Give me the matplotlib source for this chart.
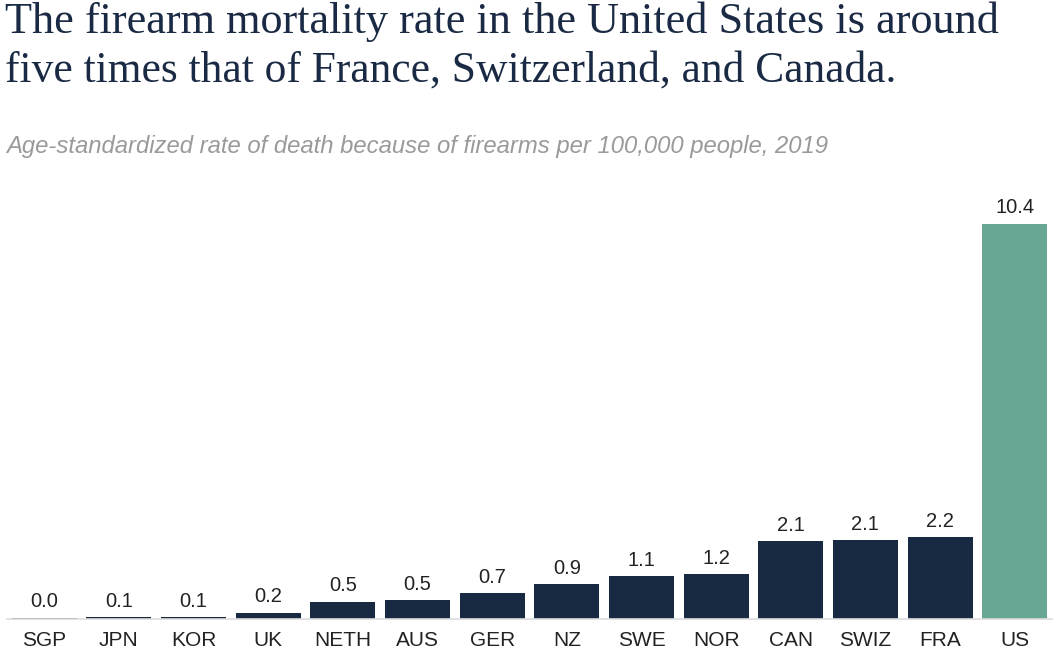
import matplotlib
matplotlib.use("Agg")
import matplotlib.pyplot as plt

countries = ["SGP", "JPN", "KOR", "UK", "NETH", "AUS", "GER", "NZ", "SWE", "NOR", "CAN", "SWIZ", "FRA", "US"]
rates = [0.03, 0.05, 0.05, 0.16, 0.45, 0.5, 0.68, 0.92, 1.12, 1.18, 2.04, 2.08, 2.15, 10.4]
rate_labels = ["0.0", "0.1", "0.1", "0.2", "0.5", "0.5", "0.7", "0.9", "1.1", "1.2", "2.1", "2.1", "2.2", "10.4"]

title_lines = ["The firearm mortality rate in the United States is around",
               "five times that of France, Switzerland, and Canada."]
subtitle = "Age-standardized rate of death because of firearms per 100,000 people, 2019"

navy = "#182a42"
green = "#67a793"
colors = [green if c == "US" else navy for c in countries]

W, H = 1055, 658
fig = plt.figure(figsize=(W / 100, H / 100), dpi=100)
ax = fig.add_axes([7 / W, 1 - 619 / H, (1052 - 7) / W, (619 - 190) / H])

x = range(len(countries))
bars = ax.bar(x, rates, width=0.87, color=colors)
ax.set_xlim(-0.5, len(countries) - 0.5)
ax.set_ylim(0, (619 - 190) / 38.0)

for b, lab in zip(bars, rate_labels):
    ax.text(b.get_x() + b.get_width() / 2, b.get_height() + 0.17, lab,
            ha="center", va="bottom", fontsize=14.5, family="Liberation Sans", color="#222222")

ax.set_xticks(list(x))
ax.set_xticklabels(countries, fontsize=15, family="Liberation Sans", color="#222222")
ax.tick_params(axis="x", length=0, pad=9)
ax.set_yticks([])
for s in ["top", "right", "left"]:
    ax.spines[s].set_visible(False)
ax.spines["bottom"].set_color("#dddddd")
ax.spines["bottom"].set_linewidth(1.2)

# title and subtitle, sized to match the widths in the reference
fig.canvas.draw()
r = fig.canvas.get_renderer()

def fit_text(xpx, ypx, s, target_w, **kw):
    t = fig.text(xpx / W, 1 - ypx / H, s, fontsize=20, **kw)
    w = t.get_window_extent(r).width
    t.set_fontsize(20 * target_w / w)
    return t

fit_text(5, 22, title_lines[0], 995, family="Liberation Serif", color="#1a2a44", va="center")
fit_text(5, 71, title_lines[1], 893, family="Liberation Serif", color="#1a2a44", va="center")
fit_text(6, 146, subtitle, 822, family="Liberation Sans", style="italic", color="#9a9a9a", va="center")

fig.savefig("out.png", dpi=100)
